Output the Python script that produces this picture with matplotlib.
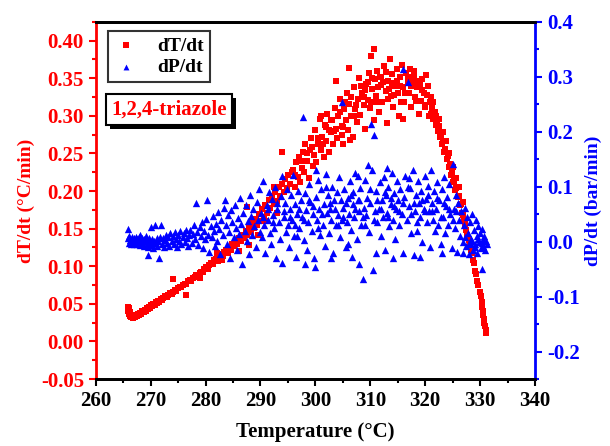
import matplotlib
matplotlib.use('Agg')
import matplotlib.pyplot as plt
import matplotlib.patheffects as pe
from matplotlib.ticker import MultipleLocator

plt.rcParams['font.family'] = ['Liberation Serif', 'DejaVu Serif']
plt.rcParams['font.weight'] = 'bold'
plt.rcParams['axes.labelweight'] = 'bold'

# dT/dt (left axis): (temperature, rate)
red_rise = [
    (265.8, 0.046), (265.9, 0.041), (266.0, 0.037), (266.1, 0.044), (266.2, 0.034), (266.3, 0.039), (266.4, 0.032), (266.6, 0.035), (266.7, 0.031), (266.9, 0.033),
    (267.1, 0.032), (267.3, 0.035), (267.5, 0.034), (267.7, 0.037), (267.9, 0.035), (268.1, 0.038), (268.3, 0.037), (268.5, 0.040), (268.7, 0.039), (268.9, 0.042),
    (269.1, 0.041), (269.3, 0.044), (269.5, 0.043), (269.7, 0.046), (269.9, 0.045), (270.1, 0.048), (270.3, 0.047), (270.5, 0.050), (270.7, 0.049), (270.9, 0.052),
    (271.1, 0.051), (271.3, 0.054), (271.6, 0.053), (271.8, 0.056), (272.1, 0.055), (272.3, 0.058), (272.6, 0.060), (272.9, 0.059), (273.2, 0.062), (273.5, 0.064),
    (273.8, 0.063), (274.1, 0.066), (274.4, 0.068), (274.7, 0.067), (275.0, 0.071), (275.3, 0.073), (275.6, 0.072), (275.9, 0.075), (276.2, 0.077), (276.5, 0.076),
    (276.8, 0.080), (277.1, 0.082), (277.4, 0.081), (277.7, 0.084), (278.0, 0.086), (278.3, 0.089), (278.6, 0.088), (278.9, 0.091), (279.2, 0.093), (279.5, 0.092),
    (279.8, 0.096), (280.1, 0.099), (280.4, 0.097), (280.7, 0.102), (281.0, 0.104), (281.3, 0.103), (281.6, 0.108), (281.9, 0.110), (282.2, 0.107), (282.5, 0.113),
    (282.8, 0.116), (283.1, 0.114), (283.4, 0.119), (283.7, 0.121), (284.0, 0.118), (274.0, 0.083), (276.4, 0.062), (279.0, 0.084), (282.0, 0.118), (283.0, 0.109),
    (284.3, 0.126), (284.6, 0.122), (284.9, 0.130), (285.2, 0.127), (285.5, 0.134), (285.8, 0.129), (286.1, 0.138), (286.4, 0.133), (286.7, 0.142), (287.0, 0.137),
    (287.3, 0.147), (287.6, 0.141), (287.9, 0.153), (288.2, 0.146), (288.5, 0.158), (288.8, 0.151), (289.1, 0.163), (289.4, 0.155), (289.7, 0.170), (290.0, 0.160),
    (290.3, 0.176), (290.6, 0.166), (290.9, 0.181), (291.2, 0.171), (291.5, 0.188), (291.8, 0.178), (292.1, 0.194), (292.4, 0.183), (292.7, 0.199), (293.0, 0.187),
    (293.3, 0.205), (293.6, 0.193), (293.9, 0.210), (294.2, 0.199), (294.5, 0.216), (294.8, 0.204), (295.1, 0.221), (295.4, 0.209), (295.7, 0.226),
    (288.0, 0.128), (289.5, 0.142), (291.0, 0.160), (292.5, 0.206), (294.0, 0.252), (293.0, 0.171), (286.0, 0.120), (287.6, 0.179),
]

red_peak = [
    (296.0, 0.228), (296.3, 0.205), (296.5, 0.238), (296.8, 0.219), (297.0, 0.245), (297.2, 0.212), (297.5, 0.231), (297.8, 0.252),
    (298.0, 0.226), (298.2, 0.262), (298.5, 0.240), (298.8, 0.218), (299.0, 0.255), (299.2, 0.270), (299.5, 0.234), (299.8, 0.248),
    (300.0, 0.281), (300.2, 0.239), (300.5, 0.262), (300.8, 0.296), (301.0, 0.255), (301.2, 0.272), (301.5, 0.245), (301.8, 0.288),
    (302.0, 0.266), (302.2, 0.302), (302.5, 0.252), (302.8, 0.279), (303.0, 0.295), (303.2, 0.262), (303.5, 0.311), (303.8, 0.283),
    (304.0, 0.270), (304.2, 0.300), (304.5, 0.322), (304.8, 0.287), (305.0, 0.262), (305.2, 0.309), (305.5, 0.294), (305.8, 0.330),
    (306.0, 0.281), (306.2, 0.316), (306.5, 0.300), (306.8, 0.272), (307.0, 0.338), (307.2, 0.309), (307.5, 0.292), (307.8, 0.322),
    (308.0, 0.350), (308.2, 0.301), (308.5, 0.330), (308.8, 0.315), (309.0, 0.282), (309.2, 0.342), (309.5, 0.321), (309.8, 0.357),
    (310.0, 0.310), (310.1, 0.380), (310.3, 0.336), (310.6, 0.295), (310.7, 0.389), (310.9, 0.349), (311.0, 0.326), (311.3, 0.360),
    (311.6, 0.305), (311.9, 0.341), (312.0, 0.352), (312.2, 0.318), (312.5, 0.366), (312.8, 0.333), (313.0, 0.290), (313.3, 0.347),
    (313.6, 0.375), (313.8, 0.326), (314.0, 0.356), (314.2, 0.312), (314.5, 0.340), (314.8, 0.362), (315.0, 0.330), (315.2, 0.300),
    (315.5, 0.352), (315.8, 0.368), (316.0, 0.338), (316.2, 0.319), (316.5, 0.357), (316.8, 0.344), (317.0, 0.330), (317.2, 0.362),
    (317.5, 0.312), (317.8, 0.345), (318.0, 0.352), (318.2, 0.325), (318.5, 0.339), (318.8, 0.303), (319.0, 0.341), (319.2, 0.320),
    (319.5, 0.349), (319.8, 0.330), (320.0, 0.312), (320.2, 0.355), (320.4, 0.328), (320.7, 0.300), (303.7, 0.346), (306.1, 0.364),
    (301.0, 0.300), (306.3, 0.268), (316.0, 0.296), (309.0, 0.335), (311.2, 0.318), (313.9, 0.344), (305.0, 0.285), (302.4, 0.281),
    (296.2, 0.222), (297.4, 0.240), (298.4, 0.250), (299.4, 0.258), (300.4, 0.270), (301.4, 0.262), (302.0, 0.285), (302.8, 0.295),
    (303.4, 0.280), (304.4, 0.305), (305.4, 0.318), (306.4, 0.325), (307.4, 0.315), (308.4, 0.340), (308.9, 0.325), (309.6, 0.345),
    (310.4, 0.350), (311.4, 0.338), (311.8, 0.352), (312.4, 0.345), (312.9, 0.358), (313.4, 0.336), (314.4, 0.328), (314.9, 0.346),
    (315.4, 0.340), (316.4, 0.330), (316.9, 0.352), (317.4, 0.340), (318.4, 0.320), (318.9, 0.346), (319.4, 0.335), (319.9, 0.315),
    (320.5, 0.340), (321.0, 0.325), (317.9, 0.360), (315.6, 0.318), (313.2, 0.322), (310.2, 0.318), (307.0, 0.300), (304.9, 0.275),
]

red_fall = [
    (320.9, 0.318), (321.1, 0.302), (321.3, 0.311), (321.5, 0.296), (321.7, 0.305), (321.9, 0.288), (322.1, 0.294), (322.3, 0.280), (322.5, 0.286), (322.7, 0.272),
    (322.9, 0.275), (323.1, 0.262), (323.3, 0.266), (323.5, 0.252), (323.7, 0.256), (323.9, 0.243), (324.1, 0.246), (324.3, 0.232), (324.5, 0.236), (324.7, 0.222),
    (324.9, 0.224), (325.1, 0.212), (325.3, 0.214), (325.5, 0.202), (325.7, 0.204), (325.9, 0.192), (326.1, 0.193), (326.3, 0.182), (326.5, 0.183), (326.7, 0.171),
    (326.9, 0.168), (327.1, 0.160), (327.3, 0.156), (327.5, 0.148), (327.7, 0.142), (327.9, 0.135), (328.1, 0.130), (328.3, 0.122), (328.5, 0.118), (328.7, 0.108),
    (328.9, 0.104), (329.1, 0.094), (329.3, 0.090), (329.5, 0.080), (329.7, 0.075), (329.9, 0.066), (330.1, 0.060), (330.3, 0.052), (330.4, 0.046), (330.5, 0.040),
    (330.6, 0.035), (330.7, 0.030), (330.8, 0.025), (330.9, 0.020), (331.0, 0.015), (331.1, 0.011),
    (321.4, 0.318), (322.0, 0.300), (322.6, 0.296), (323.2, 0.278), (323.8, 0.266), (324.4, 0.250), (325.0, 0.232), (325.6, 0.218), (326.2, 0.206), (326.8, 0.185),
]

# dP/dt (right axis)
blue_flat = [
    (265.8, 0.024), (265.9, 0.006), (266.0, -0.002), (266.1, 0.010), (266.3, 0.003), (266.4, -0.004), (266.6, 0.008), (266.7, 0.001), (266.9, -0.005), (267.0, 0.006),
    (267.2, 0.000), (267.3, 0.009), (267.5, -0.004), (267.6, 0.004), (267.8, -0.001), (267.9, 0.008), (268.1, -0.006), (268.2, 0.002), (268.4, 0.007), (268.5, -0.003),
    (268.7, 0.004), (268.8, -0.008), (269.0, 0.001), (269.1, 0.010), (269.3, -0.004), (269.4, 0.003), (269.6, -0.010), (269.7, 0.006), (269.9, -0.002), (270.0, 0.027),
    (270.2, -0.006), (270.3, 0.004), (270.5, -0.012), (270.6, 0.002), (270.8, 0.030), (270.9, -0.003), (271.1, 0.007), (271.2, -0.008), (271.4, 0.001), (271.5, -0.030),
    (271.7, 0.009), (271.8, 0.031), (272.0, -0.004), (272.2, 0.006), (272.4, -0.010), (272.6, 0.003), (272.8, 0.012), (273.0, -0.002), (273.2, 0.008), (273.4, -0.007),
    (273.6, 0.015), (273.8, 0.001), (274.0, 0.010), (274.2, -0.005), (274.4, 0.017), (274.6, 0.004), (274.8, -0.009), (275.0, 0.012), (275.2, 0.002), (275.4, 0.019),
    (275.6, -0.004), (275.8, 0.009), (276.0, 0.016), (276.2, 0.000), (276.4, 0.021), (276.6, 0.006), (276.8, -0.008), (277.0, 0.013), (269.5, -0.024), (268.0, 0.012),
]

blue_spread = [
    (277.2, 0.022), (277.5, -0.002), (277.7, 0.014), (277.9, 0.030), (278.1, 0.005), (278.3, 0.071), (278.5, 0.018), (278.7, -0.006), (278.9, 0.026), (279.1, 0.010),
    (279.3, 0.035), (279.5, -0.012), (279.7, 0.020), (279.9, 0.004), (280.1, 0.042), (280.3, 0.075), (280.5, 0.013), (280.7, -0.018), (280.9, 0.028), (281.1, 0.008),
    (281.3, 0.047), (281.5, 0.019), (281.7, -0.008), (281.9, 0.033), (282.1, 0.002), (282.3, 0.054), (282.5, 0.024), (282.7, -0.022), (282.9, 0.040), (283.1, 0.012),
    (283.3, 0.062), (283.5, 0.075), (283.7, 0.030), (283.9, -0.004), (284.1, 0.048), (284.3, 0.018), (284.5, -0.030), (284.7, 0.058), (284.9, 0.036), (285.1, 0.008),
    (285.3, 0.067), (285.5, 0.025), (285.7, -0.015), (285.9, 0.044), (286.1, 0.014), (286.3, 0.080), (286.5, 0.032), (286.7, -0.040), (286.9, 0.052), (287.1, 0.020),
    (287.3, 0.066), (287.5, 0.002), (287.7, 0.038), (287.9, -0.022), (288.1, 0.085), (288.3, 0.046), (288.5, 0.012), (288.7, 0.060), (288.9, 0.028), (289.1, -0.010),
    (289.3, 0.072), (289.5, 0.040), (289.7, 0.095), (289.9, 0.018),
    (290.1, 0.052), (290.3, 0.008), (290.5, 0.110), (290.7, 0.030), (290.9, -0.020), (291.1, 0.066), (291.3, 0.040), (291.5, 0.090), (291.7, 0.015), (291.9, -0.005),
    (292.1, 0.078), (292.3, 0.048), (292.5, 0.025), (292.7, 0.100), (292.9, -0.030), (293.1, 0.060), (293.3, 0.035), (293.5, 0.005), (293.7, 0.084), (293.9, 0.120),
    (294.0, -0.038), (294.2, 0.045), (294.4, 0.070), (294.6, 0.018), (294.8, 0.095), (295.0, 0.030), (295.2, -0.010), (295.4, 0.060), (295.6, 0.085), (295.8, 0.040),
    (296.0, 0.122), (296.1, 0.010), (296.3, 0.068), (296.5, -0.027), (296.7, 0.050), (296.9, 0.092), (297.1, 0.025), (297.3, 0.075), (297.5, 0.045), (297.7, 0.226),
    (297.9, 0.003), (298.1, 0.088), (298.3, 0.058), (298.5, -0.015), (298.7, 0.035), (298.9, 0.105), (299.1, 0.072), (299.3, 0.020), (299.5, 0.050), (299.7, -0.030),
    (299.9, -0.046), (300.1, 0.082), (300.3, 0.040), (300.5, 0.112), (300.7, 0.060), (300.9, 0.012), (301.1, 0.095), (301.3, 0.030), (301.5, 0.068), (301.7, -0.008),
    (301.9, 0.124), (302.1, 0.052), (302.3, 0.085), (302.5, 0.015), (302.7, 0.070), (302.9, 0.040), (303.1, 0.100), (303.3, -0.020), (303.5, 0.060), (303.7, 0.030),
    (303.9, 0.090), (304.1, 0.048), (304.3, 0.118), (304.5, 0.008), (304.7, 0.075), (304.8, 0.255), (304.9, 0.040), (305.1, 0.062), (305.3, 0.095), (305.5, -0.010),
    (305.7, 0.035), (305.9, 0.080), (306.1, 0.050), (306.3, 0.110), (306.5, 0.022), (306.6, -0.027), (306.8, 0.068), (306.9, 0.090), (307.1, 0.045), (307.3, 0.125),
    (307.5, 0.005), (307.7, 0.075), (307.9, 0.055), (308.0, -0.040), (308.2, 0.098), (308.4, 0.030), (308.6, -0.067), (308.8, 0.062), (309.0, 0.112), (309.2, 0.048),
    (309.4, 0.080), (309.6, 0.140), (309.8, 0.018), (310.0, 0.070), (310.1, 0.214), (310.3, 0.130), (310.5, -0.051), (310.7, 0.195), (310.9, 0.055), (311.1, 0.092),
    (311.3, 0.035), (311.5, 0.060), (311.7, 0.108), (311.9, 0.010), (312.1, 0.075), (312.3, 0.045), (312.5, 0.118), (312.7, -0.015), (312.9, 0.085), (313.1, 0.052),
    (313.3, 0.100), (313.5, 0.028), (313.7, 0.068), (313.9, 0.125), (314.1, 0.040), (314.3, 0.088), (314.5, 0.005), (314.7, 0.060), (314.9, 0.110), (315.1, 0.075),
    (315.3, 0.030), (315.5, 0.095), (315.7, 0.050), (315.9, -0.020), (316.0, 0.314), (316.2, 0.082), (316.4, 0.120), (316.6, 0.040), (316.9, 0.290), (317.1, 0.065),
    (317.3, 0.098), (317.5, 0.015), (317.7, 0.130), (317.9, -0.024), (318.1, 0.055), (318.3, 0.085), (318.5, 0.035), (318.7, 0.110), (318.9, 0.070), (319.1, 0.045),
    (319.3, 0.092), (319.5, 0.000), (319.7, 0.060), (319.9, 0.120), (320.1, 0.078), (320.3, 0.035), (320.5, 0.102), (320.7, 0.055), (320.9, -0.010), (321.1, 0.130),
    (321.2, 0.070), (321.4, 0.040), (321.6, 0.092), (321.8, 0.020), (322.0, 0.060), (322.2, 0.108), (322.4, 0.030), (322.6, 0.075), (322.8, -0.005), (323.0, 0.095),
    (323.2, 0.045), (323.4, 0.118), (323.6, 0.015), (323.8, 0.065), (324.0, 0.082), (324.2, 0.030), (324.4, 0.105), (324.6, 0.050), (324.8, -0.012), (325.0, 0.142),
    (325.2, 0.060), (325.4, 0.025), (325.6, 0.085), (325.8, -0.018),
]

blue_dense = [
    (290.4, 0.045), (291.4, 0.060), (292.2, 0.035), (293.0, 0.070), (294.3, 0.055), (295.3, 0.045), (296.2, 0.030), (297.0, 0.060), (298.0, 0.040), (298.8, 0.075),
    (299.6, 0.065), (300.4, 0.025), (301.2, 0.050), (302.0, 0.100), (302.6, 0.060), (303.4, 0.075), (304.2, 0.030), (305.0, 0.045), (305.6, 0.070), (306.4, 0.085),
    (307.2, 0.060), (308.0, 0.075), (308.6, 0.045), (309.1, 0.030), (309.9, 0.095), (310.6, 0.040), (311.2, 0.075), (312.0, 0.060), (312.6, 0.090), (313.2, 0.045),
    (313.8, 0.080), (314.4, 0.065), (315.2, 0.055), (316.0, 0.070), (316.8, 0.100), (317.4, 0.050), (318.0, 0.070), (318.6, 0.020), (319.4, 0.075), (320.0, 0.055),
    (320.6, 0.085), (321.3, 0.055), (322.1, 0.080), (322.9, 0.045), (323.5, 0.070), (324.3, 0.060), (325.1, 0.040), (325.7, 0.055), (302.8, -0.030), (306.0, -0.005),
    (311.0, -0.020), (314.2, -0.030), (319.0, -0.028), (323.1, -0.020), (298.2, -0.040), (296.6, 0.010), (317.0, 0.115), (313.0, 0.135), (307.8, 0.120), (300.2, 0.130),
]

blue_tail = [
    (326.0, 0.070), (326.2, 0.040), (326.4, 0.010), (326.6, 0.055), (326.8, -0.020), (327.0, 0.030), (327.2, 0.062), (327.4, -0.008), (327.6, 0.045), (327.8, 0.015),
    (328.0, -0.022), (328.2, 0.035), (328.4, 0.005), (328.5, 0.050), (328.7, -0.015), (328.9, 0.022), (329.1, -0.005), (329.2, 0.040), (329.4, 0.010), (329.5, -0.020),
    (329.7, 0.028), (329.8, 0.000), (330.0, 0.015), (330.1, -0.012), (330.3, 0.024), (330.3, -0.050), (330.5, 0.005), (330.6, -0.008), (330.8, 0.010), (330.9, -0.015),
    (331.0, 0.002), (331.2, -0.005), (329.0, -0.010), (328.6, 0.002), (327.9, -0.005), (327.3, 0.008), (326.9, 0.000), (330.4, -0.002), (329.6, 0.005), (328.1, -0.002),
]

red_t, red_v = zip(*(red_rise + red_peak + red_fall))
blue_t, blue_v = zip(*(blue_flat + blue_spread + blue_dense + blue_tail))

fig = plt.figure(figsize=(6.1, 4.46), dpi=100)
ax = fig.add_axes([0.157, 0.150, 0.720, 0.801])
ax2 = ax.twinx()

h1 = ax.scatter(red_t, red_v, marker='s', s=22, color='red', linewidths=0, label='dT/dt')
h2 = ax2.scatter(blue_t, blue_v, marker='^', s=28, color='blue', linewidths=0, label='dP/dt')

ax.set_xlim(260, 340)
ax.set_ylim(-0.05, 0.425)
ax2.set_ylim(-0.25, 0.4)

ax.xaxis.set_major_locator(MultipleLocator(10))
ax.xaxis.set_minor_locator(MultipleLocator(5))
ax.yaxis.set_major_locator(MultipleLocator(0.05))
ax.yaxis.set_minor_locator(MultipleLocator(0.025))
ax2.yaxis.set_major_locator(MultipleLocator(0.1))
ax2.yaxis.set_minor_locator(MultipleLocator(0.05))
ax.yaxis.set_major_formatter(plt.FormatStrFormatter('%.2f'))
ax2.yaxis.set_major_formatter(plt.FormatStrFormatter('%.1f'))

for a in (ax, ax2):
    for sp in a.spines.values():
        sp.set_linewidth(2)
ax.spines['left'].set_color('red')
ax.spines['right'].set_visible(False)
ax2.spines['left'].set_visible(False)
ax2.spines['right'].set_color('blue')

ax.tick_params(axis='x', which='both', direction='out', width=1.5, labelsize=15, top=False)
ax.tick_params(axis='x', which='major', length=5)
ax.tick_params(axis='x', which='minor', length=3)
ax.tick_params(axis='y', which='both', colors='red', direction='out', width=1.5, labelsize=15)
ax.tick_params(axis='y', which='major', length=5)
ax.tick_params(axis='y', which='minor', length=3)
ax2.tick_params(axis='y', which='both', colors='blue', direction='out', width=1.5, labelsize=15)
ax2.tick_params(axis='y', which='major', length=5)
ax2.tick_params(axis='y', which='minor', length=3)

ax.set_xlabel('Temperature (°C)', fontsize=15, labelpad=8)
ax.set_ylabel('dT/dt (°C/min)', fontsize=14, color='red', labelpad=4)
ax2.set_ylabel('dP/dt (bar/min)', fontsize=14, color='blue', labelpad=4)

leg = ax2.legend(handles=[h1, h2], loc='upper left', bbox_to_anchor=(0.02, 0.985),
                 fontsize=14, frameon=True, fancybox=False, markerscale=0.8,
                 handlelength=1.2, handletextpad=1.0, borderpad=0.3, labelspacing=0.2,
                 borderaxespad=0.2)
leg.get_frame().set_edgecolor('black')
leg.get_frame().set_linewidth(1.5)

txt = ax2.text(0.035, 0.755, '1,2,4-triazole', transform=ax2.transAxes, color='red',
               fontsize=15, ha='left', va='center',
               bbox=dict(boxstyle='square,pad=0.25', facecolor='white', edgecolor='black', linewidth=1.5))
txt.get_bbox_patch().set_path_effects([
    pe.withSimplePatchShadow(offset=(3, -3), shadow_rgbFace='black', alpha=1.0)])

fig.savefig('out.png', dpi=100)
